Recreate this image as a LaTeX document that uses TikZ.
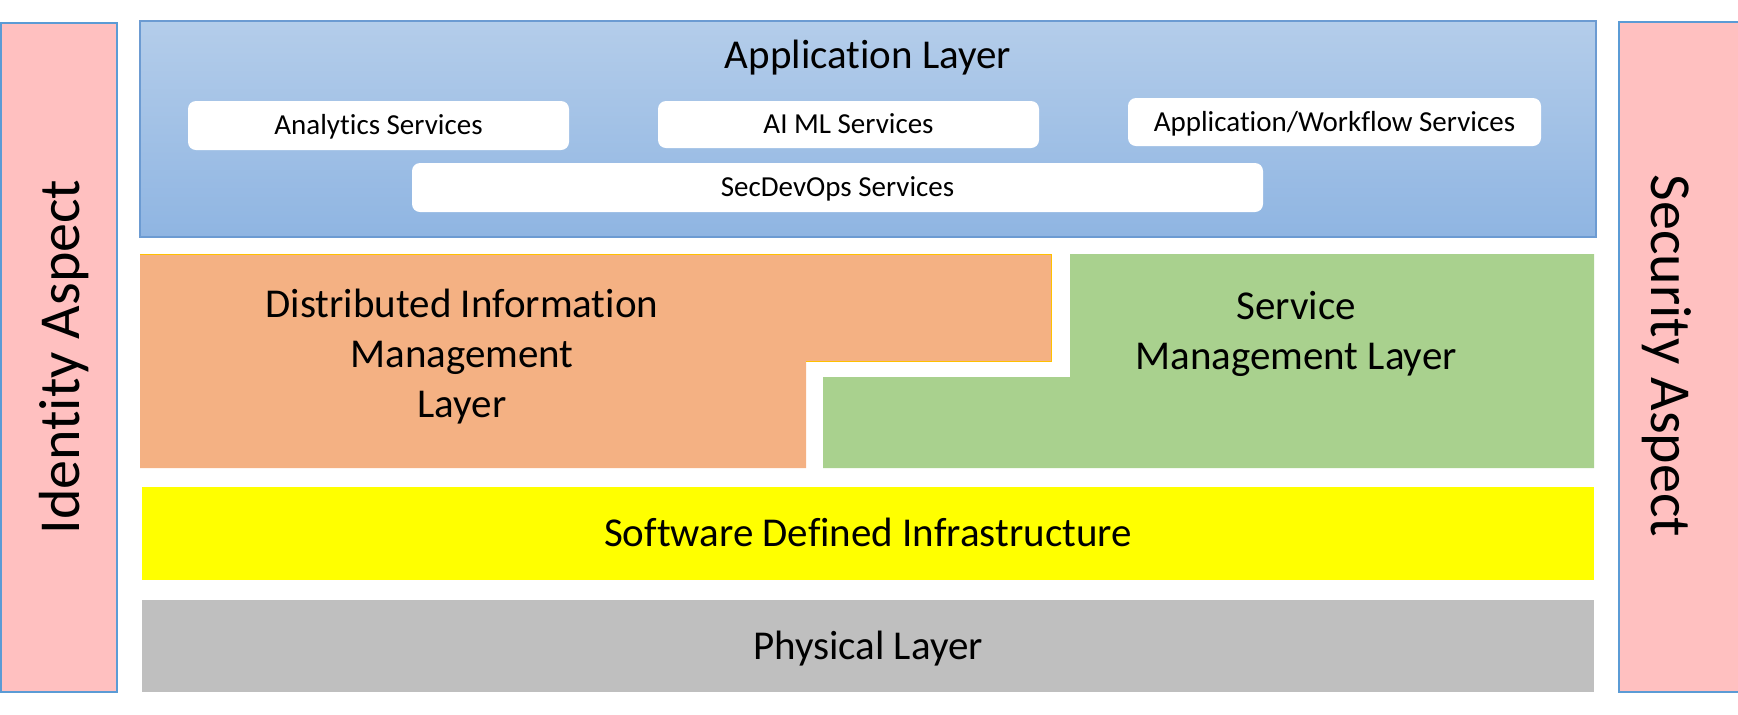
\documentclass[tikz,border=0pt]{standalone}
\usepackage{fontspec}
\setmainfont{Carlito}[Ligatures=NoCommon]
\usetikzlibrary{positioning}
\definecolor{aspectpink}{RGB}{255,192,192}
\definecolor{aspectedge}{RGB}{91,155,213}
\definecolor{apptop}{RGB}{180,205,234}
\definecolor{appbottom}{RGB}{143,181,226}
\definecolor{appedge}{RGB}{108,155,210}
\definecolor{dimorange}{RGB}{244,177,131}
\definecolor{dimedge}{RGB}{255,192,0}
\definecolor{smgreen}{RGB}{169,209,142}
\definecolor{sdiyellow}{RGB}{255,255,0}
\definecolor{physgray}{RGB}{191,191,191}
\tikzstyle{bigtext} = [font=\fontsize{20.5}{25}\selectfont, inner sep=0pt]
\tikzstyle{smalltext} = [font=\fontsize{14.5}{17}\selectfont, inner sep=0pt, text height=9.3pt, text depth=0pt]
\tikzstyle{sidetext} = [font=\fontsize{29}{35}\selectfont, inner sep=0pt, anchor=base]
\tikzstyle{service} = [smalltext, fill=white, rounded corners=4pt]
\tikzstyle{layer} = [bigtext, text height=13.2pt, text depth=0pt]

\begin{document}
\begin{tikzpicture}[x=0.5pt,y=-0.5pt]
\useasboundingbox (0,0) rectangle (1738,714);
% side aspects
\draw[aspectedge, line width=0.75pt, fill=aspectpink] (1,23) rectangle (117,692);
\draw[aspectedge, line width=0.75pt, fill=aspectpink] (1619,22) rectangle (1745,692);
\node[sidetext, rotate=90] (identity) at (79,357) {Identity Aspect};
\node[sidetext, rotate=-90] (security) at (1651,356) {Security Aspect};

% application layer
\draw[appedge, line width=0.75pt, top color=apptop, bottom color=appbottom] (140,21) rectangle (1596,237);
\node[bigtext, anchor=base] (app) at (868,68) {Application Layer};
\node[service, minimum width=190.5pt, minimum height=24.5pt] (analytics) at (378.5,125.5) {Analytics Services};
\node[service, minimum width=190.5pt, minimum height=23.5pt] (aiml) at (848.5,124.5) {AI ML Services};
\node[service, minimum width=206.5pt, minimum height=24pt] (workflow) at (1334.5,122) {Application/Workflow Services};
\node[service, minimum width=425.5pt, minimum height=24.5pt] (secdevops) at (837.5,187.5) {SecDevOps Services};

% middle layers
\fill[dimorange] (140,254) -- (1051,254) -- (1051,361) -- (806,361) -- (806,468) -- (140,468) -- cycle;
\draw[dimedge, line width=0.5pt] (140,254) -- (1051,254) -- (1051,361) -- (806,361);
\node[bigtext, align=center] (dim) at (462,357) {Distributed Information\\Management\\Layer};
\fill[smgreen] (1070,254) -- (1594,254) -- (1594,468) -- (823,468) -- (823,377) -- (1070,377) -- cycle;
\node[bigtext, align=center] (sml) at (1296,334) {Service\\Management Layer};

% bottom layers
\node[layer, fill=sdiyellow, minimum width=726pt, minimum height=46.5pt] (sdi) at (868,533.5) {Software Defined Infrastructure};
\node[layer, fill=physgray, minimum width=726pt, minimum height=46pt] (phys) at (868,646) {Physical Layer};
\end{tikzpicture}
\end{document}
